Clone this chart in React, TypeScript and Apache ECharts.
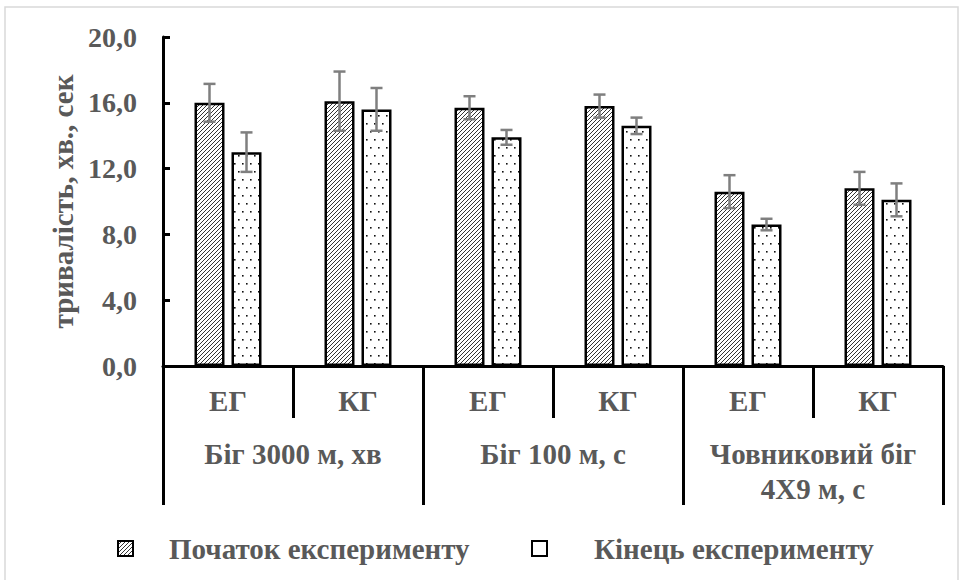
import { useEffect, useRef } from 'react';
import * as echarts from 'echarts';

// Groups on the lower axis and the two measurement moments
const categories = ['ЕГ', 'КГ', 'ЕГ', 'КГ', 'ЕГ', 'КГ'];
const testNames = ['Біг 3000 м, хв', 'Біг 100 м, с', 'Човниковий біг\n4Х9 м, с'];
const seriesNames = ['Початок експерименту', 'Кінець експерименту'];

// Mean values and standard deviations
const startValues = [16.0, 16.1, 15.7, 15.8, 10.6, 10.8];
const endValues = [13.0, 15.6, 13.9, 14.6, 8.6, 10.1];
const startErrors = [1.15, 1.8, 0.7, 0.7, 1.0, 1.0];
const endErrors = [1.2, 1.3, 0.45, 0.5, 0.35, 1.0];

// Value axis range
const yMin = 0;
const yMax = 20;
const yStep = 4;

const FONT = 'Liberation Serif, Times New Roman, serif';
const TEXT = '#595959';
const BAR_W = 30;
const BAR_GAP = 7;

function hatchTile(): HTMLCanvasElement {
  const c = document.createElement('canvas');
  c.width = 4;
  c.height = 4;
  const g = c.getContext('2d')!;
  g.fillStyle = '#ffffff';
  g.fillRect(0, 0, 4, 4);
  g.strokeStyle = '#2a2a2a';
  g.lineWidth = 0.95;
  g.beginPath();
  g.moveTo(-1, 5);
  g.lineTo(5, -1);
  g.moveTo(-1, 1);
  g.lineTo(1, -1);
  g.moveTo(3, 5);
  g.lineTo(5, 3);
  g.stroke();
  return c;
}

function dotTile(): HTMLCanvasElement {
  const c = document.createElement('canvas');
  c.width = 8;
  c.height = 16;
  const g = c.getContext('2d')!;
  g.fillStyle = '#ffffff';
  g.fillRect(0, 0, 8, 16);
  g.fillStyle = '#111111';
  g.fillRect(2, 3, 1.6, 1.6);
  g.fillRect(6, 11, 1.6, 1.6);
  return c;
}

function errorBars(values: number[], errors: number[], shift: number) {
  return {
    type: 'custom',
    xAxisIndex: 0,
    yAxisIndex: 0,
    z: 10,
    silent: true,
    data: values.map((v, i) => [i, v, errors[i]]),
    renderItem: (_p: any, api: any) => {
      const i = api.value(0);
      const v = api.value(1);
      const e = api.value(2);
      const x = api.coord([i, v])[0] + shift;
      const yt = api.coord([i, v + e])[1];
      const yb = api.coord([i, v - e])[1];
      const cap = 6;
      const st = { stroke: '#7f7f7f', lineWidth: 2.5 };
      return {
        type: 'group',
        children: [
          { type: 'line', shape: { x1: x, y1: yt, x2: x, y2: yb }, style: st },
          { type: 'line', shape: { x1: x - cap, y1: yt, x2: x + cap, y2: yt }, style: st },
          { type: 'line', shape: { x1: x - cap, y1: yb, x2: x + cap, y2: yb }, style: st },
        ],
      };
    },
  };
}

export default function App() {
  const ref = useRef<HTMLDivElement>(null);

  useEffect(() => {
    if (!ref.current) return;
    const chart = echarts.init(ref.current, null, { renderer: 'svg' });
    const shift = (BAR_W + BAR_GAP) / 2;
    const labelStyle = { color: TEXT, fontFamily: FONT, fontWeight: 'bold' as const };

    chart.setOption({
      animation: false,
      backgroundColor: '#ffffff',
      grid: { left: 163, right: 22, top: 37, bottom: 214, containLabel: false },
      graphic: [
        {
          type: 'rect',
          silent: true,
          z: -10,
          shape: { x: 5, y: 7, width: 953, height: 580 },
          style: { fill: 'none', stroke: '#d9d9d9', lineWidth: 1.5 },
        },
      ],
      legend: [
        {
          data: [seriesNames[0]],
          left: 112,
          top: 529,
          itemWidth: 15,
          itemHeight: 15,
          icon: 'rect',
          itemStyle: { borderColor: '#000', borderWidth: 2 },
          textStyle: { ...labelStyle, fontSize: 29, lineHeight: 29, padding: [0, 0, 0, 31] },
        },
        {
          data: [{ name: seriesNames[1], itemStyle: { color: '#ffffff' } }],
          left: 526,
          top: 529,
          itemWidth: 15,
          itemHeight: 15,
          icon: 'rect',
          itemStyle: { borderColor: '#000', borderWidth: 2 },
          textStyle: { ...labelStyle, fontSize: 29, lineHeight: 29, padding: [0, 0, 0, 42] },
        },
      ],
      xAxis: [
        {
          type: 'category',
          data: categories,
          position: 'bottom',
          axisLine: { show: true, lineStyle: { color: '#000', width: 3 } },
          axisTick: { show: true, interval: 0, length: 52, lineStyle: { color: '#000', width: 3 } },
          axisLabel: { ...labelStyle, fontSize: 29, lineHeight: 29, margin: 20, interval: 0 },
        },
        {
          type: 'category',
          data: testNames,
          position: 'bottom',
          axisLine: { show: false },
          axisTick: { show: true, interval: 0, length: 139, lineStyle: { color: '#000', width: 3 } },
          axisLabel: { ...labelStyle, fontSize: 29, lineHeight: 35, margin: 70, interval: 0 },
        },
      ],
      yAxis: {
        type: 'value',
        min: yMin,
        max: yMax,
        interval: yStep,
        name: 'тривалість, хв., сек',
        nameLocation: 'middle',
        nameGap: 84,
        nameTextStyle: { ...labelStyle, fontSize: 29 },
        axisLine: { show: true, lineStyle: { color: '#000', width: 3 } },
        axisTick: { show: true, inside: true, length: 7, lineStyle: { color: '#000', width: 3 } },
        splitLine: { show: false },
        axisLabel: {
          ...labelStyle,
          fontSize: 28,
          margin: 26,
          formatter: (v: number) => v.toFixed(1).replace('.', ','),
        },
      },
      series: [
        {
          name: seriesNames[0],
          type: 'bar',
          data: startValues,
          barWidth: BAR_W,
          barGap: `${(BAR_GAP / BAR_W) * 100}%`,
          itemStyle: {
            color: { image: hatchTile(), repeat: 'repeat' },
            borderColor: '#000',
            borderWidth: 2.5,
          },
        },
        {
          name: seriesNames[1],
          type: 'bar',
          data: endValues,
          barWidth: BAR_W,
          barGap: `${(BAR_GAP / BAR_W) * 100}%`,
          itemStyle: {
            color: { image: dotTile(), repeat: 'repeat' },
            borderColor: '#000',
            borderWidth: 2.5,
          },
        },
        errorBars(startValues, startErrors, -shift),
        errorBars(endValues, endErrors, shift),
      ],
    });

    return () => chart.dispose();
  }, []);

  return (
    <div
      ref={ref}
      style={{ position: 'fixed', left: 0, top: 0, width: 965, height: 580, background: '#fff' }}
    />
  );
}
